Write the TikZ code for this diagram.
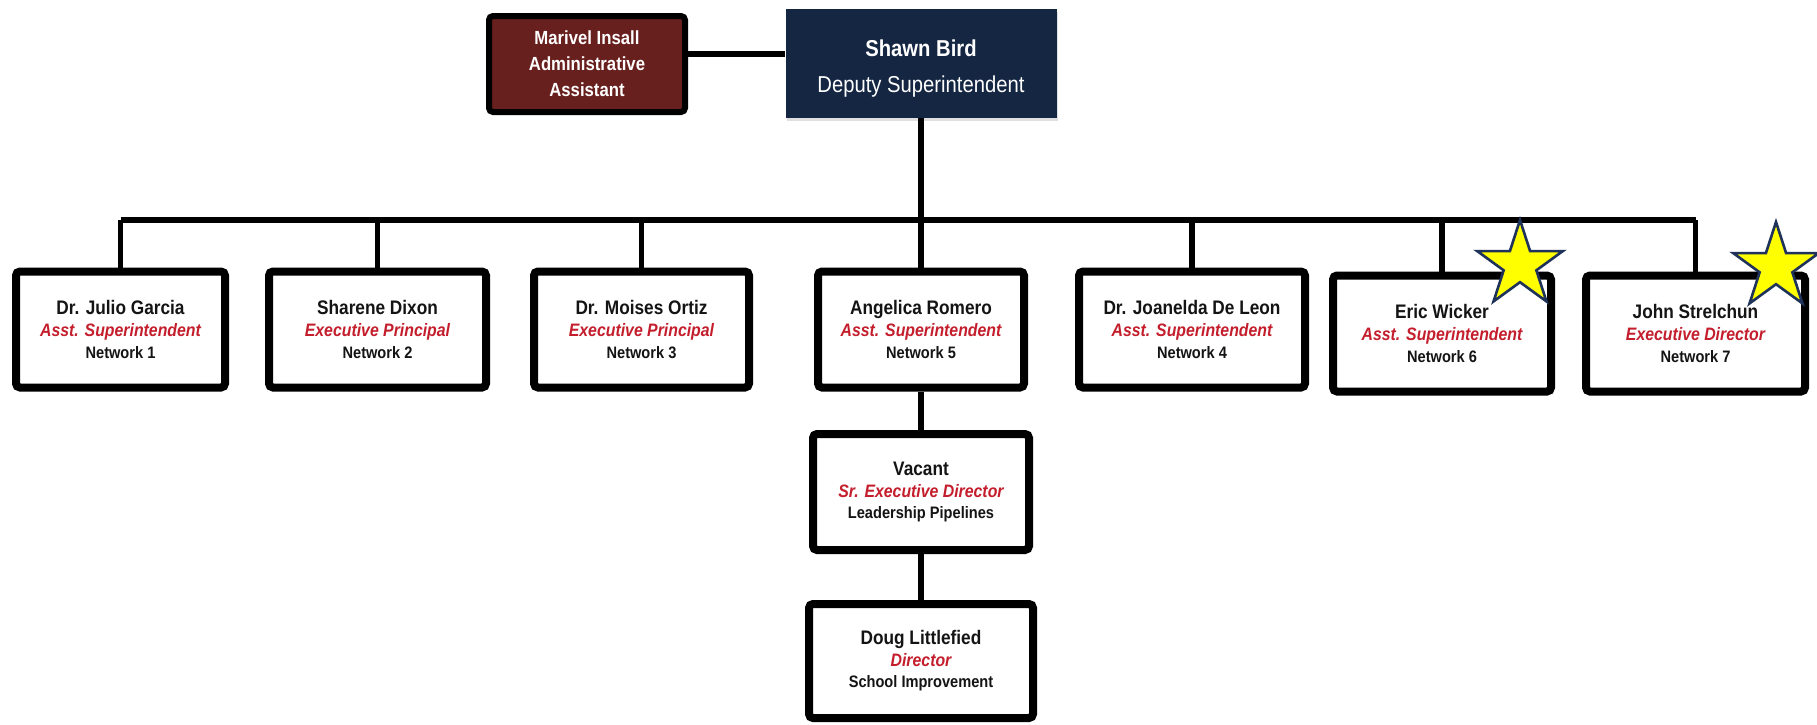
\documentclass[tikz,border=0pt]{standalone}
\usepackage{fontspec}
\setmainfont[FakeStretch=0.88]{Liberation Sans}
\usetikzlibrary{shapes.geometric,shadows}

\definecolor{headnavy}{RGB}{20,38,66}
\definecolor{asstred}{RGB}{104,32,30}
\definecolor{rolered}{RGB}{196,30,45}
\definecolor{staryellow}{RGB}{255,255,0}
\definecolor{starline}{RGB}{30,50,90}
\definecolor{inkblack}{RGB}{20,20,20}

\def\staff#1#2#3{{\fontsize{9.8}{10.8}\selectfont\bfseries #1}\\
  {\fontsize{9}{10.8}\selectfont\bfseries\itshape\color{rolered}#2}\\
  {\fontsize{8.3}{10.8}\selectfont\bfseries #3}}

\tikzset{
  staffbox/.style={draw=black, line width=4pt, fill=white, rounded corners=2pt,
    align=center, inner sep=2pt, minimum height=58pt, text=inkblack,
    font=\fontsize{9.8}{10.8}\selectfont,
    drop shadow={opacity=0.25, shadow xshift=0.8pt, shadow yshift=-1.4pt}},
  link/.style={line width=2.8pt},
  starmark/.style={star, star points=5, star point ratio=2.618, minimum size=45pt,
    inner sep=0pt, fill=staryellow, draw=starline, line width=1.3pt}
}

\begin{document}
\begin{tikzpicture}[x=0.5pt, y=-0.5pt]
  \useasboundingbox (0,0) rectangle (1817,724);

  % top of the chart
  \node[fill=headnavy, text=white, minimum width=135.5pt, minimum height=54.5pt,
    align=center, font=\fontsize{11.5}{16.5}\selectfont,
    drop shadow={opacity=0.25, shadow xshift=0.8pt, shadow yshift=-1.4pt}]
    (boss) at (921,63.5) {\rule{0pt}{13pt}\textbf{Shawn Bird}\\[1.5pt]Deputy Superintendent};
  \node[draw=black, line width=3pt, fill=asstred, text=white, rounded corners=2pt,
    minimum width=98pt, minimum height=48pt, align=center,
    font=\fontsize{9.5}{13}\selectfont\bfseries,
    drop shadow={opacity=0.25, shadow xshift=0.8pt, shadow yshift=-1.4pt}]
    (asst) at (587,64) {Marivel Insall\\Administrative\\Assistant};

  % networks
  \node[staffbox, minimum width=104.5pt] (net1) at (120.5,329.5)
    {\staff{Dr. Julio Garcia}{Asst. Superintendent}{Network 1}};
  \node[staffbox, minimum width=108.5pt] (net2) at (377.5,329.5)
    {\staff{Sharene Dixon}{Executive Principal}{Network 2}};
  \node[staffbox, minimum width=107.5pt] (net3) at (641.5,329.5)
    {\staff{Dr. Moises Ortiz}{Executive Principal}{Network 3}};
  \node[staffbox, minimum width=103pt] (net5) at (921,329.5)
    {\staff{Angelica Romero}{Asst. Superintendent}{Network 5}};
  \node[staffbox, minimum width=113pt] (net4) at (1192,329.5)
    {\staff{Dr. Joanelda De Leon}{Asst. Superintendent}{Network 4}};
  \node[staffbox, minimum width=109pt] (net6) at (1442,333.5)
    {\staff{Eric Wicker}{Asst. Superintendent}{Network 6}};
  \node[staffbox, minimum width=109.5pt] (net7) at (1695.5,333.5)
    {\staff{John Strelchun}{Executive Director}{Network 7}};

  % under network 5
  \node[staffbox, minimum width=108pt] (vacant) at (921,492)
    {\staff{Vacant}{Sr. Executive Director}{Leadership Pipelines}};
  \node[staffbox, minimum width=112pt, minimum height=57pt] (doug) at (921,661)
    {\staff{Doug Littlefied}{Director}{School Improvement}};

  % lines
  \coordinate (bar) at (921,220);
  \draw[link] ([yshift=5pt]asst.east) -- ([yshift=5pt]asst.east -| boss.west);
  \draw[link] (boss) -- (bar);
  \draw[link] (bar -| net1.north) -- (bar -| net7.north);
  \foreach \n in {net1,net2,net3,net5,net4,net6,net7}
    \draw[link] (bar -| \n.north) -- (\n.north);
  \draw[link] (net5) -- (vacant);
  \draw[link] (vacant) -- (doug);

  \node[starmark] (starA) at (1520,265) {};
  \node[starmark] (starB) at (1776,267) {};

\end{tikzpicture}
\end{document}
